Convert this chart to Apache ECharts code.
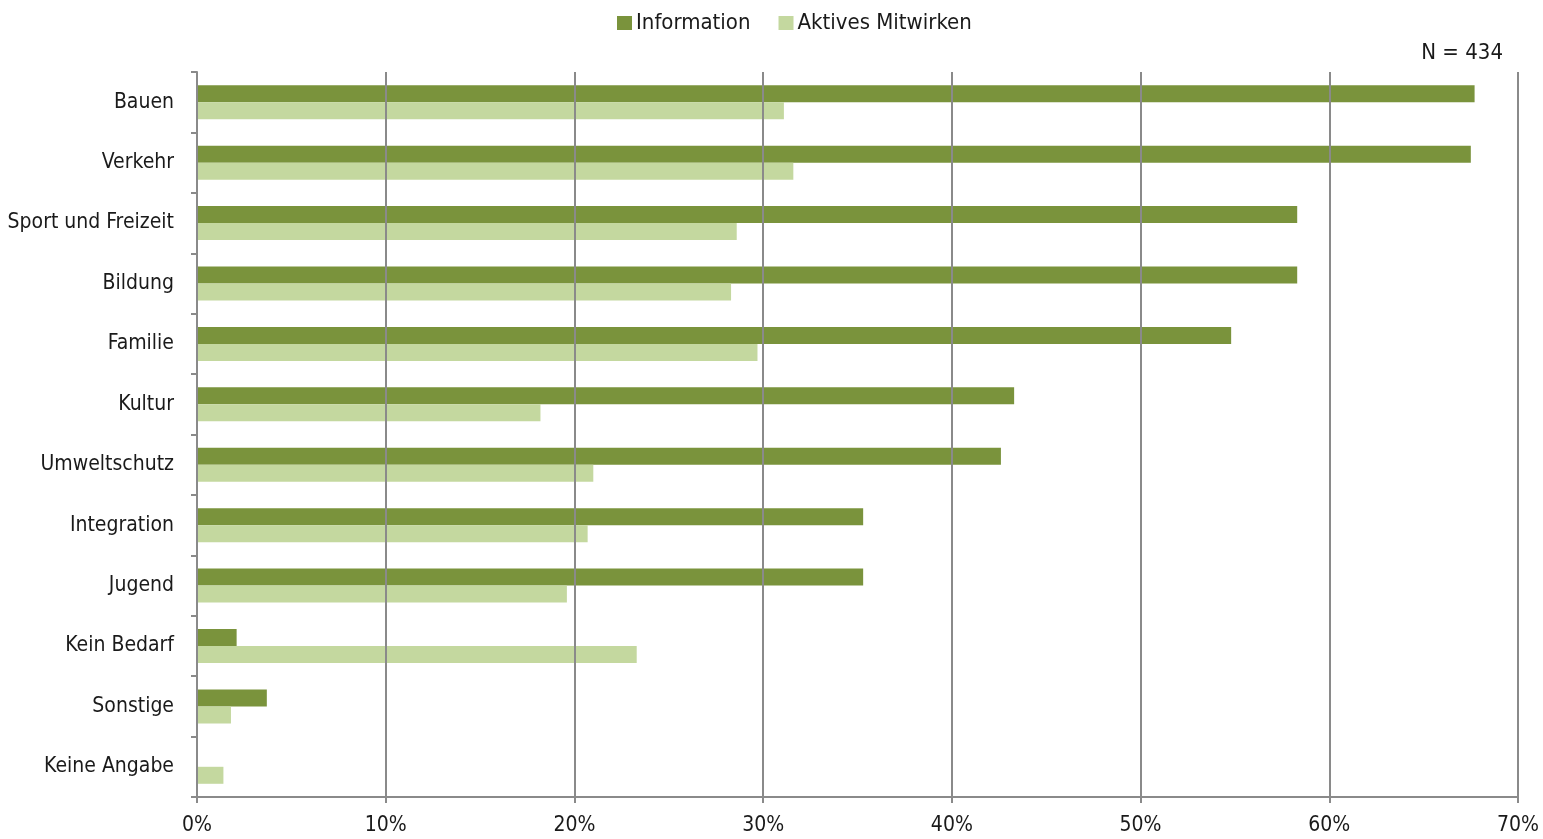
<!DOCTYPE html>
<html>
<head>
<meta charset="utf-8">
<script src="https://cdn.jsdelivr.net/npm/echarts@6/dist/echarts.min.js"></script>
<style>
  html, body { margin: 0; padding: 0; background: #fff; }
  #chart { width: 1543px; height: 839px; }
</style>
</head>
<body>
<div id="chart"></div>
<script>
// Themenfelder (von oben nach unten)
const categories = ['Bauen', 'Verkehr', 'Sport und Freizeit', 'Bildung', 'Familie', 'Kultur',
  'Umweltschutz', 'Integration', 'Jugend', 'Kein Bedarf', 'Sonstige', 'Keine Angabe'];
// Anteile in Prozent (N = 434)
const information = [67.7, 67.5, 58.3, 58.3, 54.8, 43.3, 42.6, 35.3, 35.3, 2.1, 3.7, 0];
const aktivesMitwirken = [31.1, 31.6, 28.6, 28.3, 29.7, 18.2, 21.0, 20.7, 19.6, 23.3, 1.8, 1.4];
const seriesNames = ['Information', 'Aktives Mitwirken'];
const sampleNote = 'N = 434';

const FONT = '"Liberation Sans Narrow", "DejaVu Sans Condensed", "Roboto Condensed", sans-serif';
const AXIS_GREY = '#8a8a8a';
const FS = 21;

const chart = echarts.init(document.getElementById('chart'), null, { renderer: 'canvas' });
chart.setOption({
  animation: false,
  textStyle: { fontFamily: FONT, color: '#1a1a1a' },
  legend: {
    top: 7,
    left: 612,
    itemWidth: 15,
    itemHeight: 14,
    itemGap: 28,
    icon: 'rect',
    textStyle: { fontFamily: FONT, fontSize: FS + 1, color: '#1a1a1a', padding: [0, 0, 0, -1] },
    data: seriesNames
  },
  graphic: [{
    type: 'text',
    right: 40,
    top: 42,
    style: { text: sampleNote, font: (FS + 1) + 'px ' + FONT, fill: '#1a1a1a' }
  }],
  grid: { left: 197, right: 25, top: 72, bottom: 42, containLabel: false, outerBoundsMode: 'none' },
  xAxis: {
    type: 'value',
    min: 0,
    max: 70,
    interval: 10,
    z: 5,
    axisLine: { show: true, lineStyle: { color: AXIS_GREY, width: 2 } },
    axisTick: { show: true, length: 6, lineStyle: { color: AXIS_GREY, width: 2 } },
    axisLabel: {
      formatter: v => v + '%',
      fontFamily: FONT, fontSize: FS, color: '#1a1a1a', margin: 18
    },
    splitLine: { show: true, lineStyle: { color: AXIS_GREY, width: 2 } }
  },
  yAxis: {
    type: 'category',
    inverse: true,
    data: categories,
    z: 5,
    axisLine: { show: true, lineStyle: { color: AXIS_GREY, width: 2 } },
    axisTick: { show: true, length: 6, alignWithLabel: false, lineStyle: { color: AXIS_GREY, width: 2 } },
    axisLabel: { fontFamily: FONT, fontSize: FS, color: '#1a1a1a', margin: 23 }
  },
  series: [
    {
      name: seriesNames[0],
      type: 'bar',
      data: information,
      barWidth: 17,
      barGap: '0%',
      itemStyle: { color: '#7a933c' }
    },
    {
      name: seriesNames[1],
      type: 'bar',
      data: aktivesMitwirken,
      barWidth: 17,
      barGap: '0%',
      itemStyle: { color: '#c4d89f' }
    }
  ]
});
</script>
</body>
</html>
